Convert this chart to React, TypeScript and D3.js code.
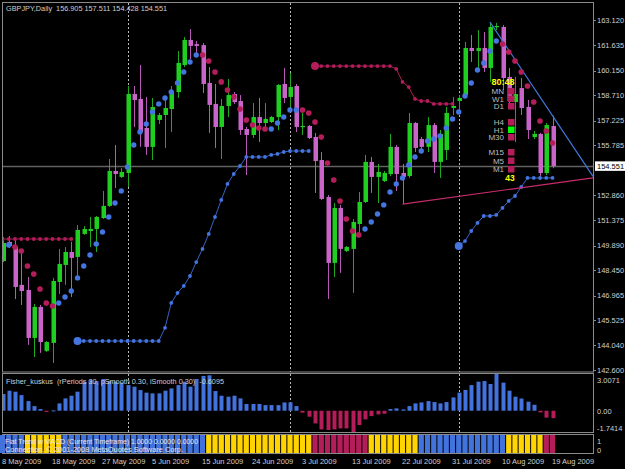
import React from "react";
import * as d3 from "d3";

// ---------- DATA ----------
const opens = [
  148.99, 150.11, 149.81, 147.59, 147.29, 144.48, 146.3, 143.72, 144.19, 147.76,
  148.76, 149.52, 149.23, 150.58, 150.75, 150.87, 151.51, 152.22, 154.27, 153.92,
  154.15, 158.78, 158.49, 156.79, 155.68, 157.26, 157.55, 157.9, 158.9, 160.48,
  161.95, 161.71, 161.65, 159.43, 158.2, 156.85, 158.08, 158.78, 158.37, 156.73,
  156.38, 157.43, 157.08, 157.14, 157.43, 159.37, 158.61, 159.25, 156.85, 156.91,
  156.26, 154.91, 152.74, 148.88, 152.1, 149.58, 149.7, 151.16, 152.45, 154.8,
  153.92, 153.68, 154.09, 155.68, 154.15, 153.97, 157.08, 156.14, 155.68, 156.96,
  154.8, 155.5, 157.96, 158.37, 158.72, 161.48, 161.3, 161.48, 160.31, 162.71,
  162.71, 159.78, 158.31, 159.13, 158.02, 156.26, 156.44, 154.15, 156.905,
];
const highs = [
  150.4, 150.46, 150.22, 149.64, 148.05, 146.47, 146.41, 144.3, 148.0, 149.7,
  149.81, 150.11, 151.1, 151.04, 151.57, 151.63, 153.1, 154.97, 155.79, 154.44,
  159.25, 159.25, 160.48, 158.61, 158.55, 157.67, 158.43, 159.25, 161.3, 162.12,
  162.59, 161.89, 161.77, 160.36, 159.37, 158.49, 159.66, 158.9, 158.72, 156.85,
  158.25, 158.55, 158.25, 157.49, 159.37, 160.31, 160.01, 159.37, 157.67, 156.96,
  156.5, 155.38, 152.86, 152.39, 152.28, 149.87, 151.45, 153.04, 155.21, 155.09,
  154.68, 154.27, 156.44, 155.79, 154.68, 157.67, 157.14, 156.26, 157.43, 157.08,
  156.67, 158.02, 158.61, 158.72, 161.83, 162.24, 162.53, 162.42, 163.0, 162.95,
  162.83, 160.31, 159.78, 159.72, 158.43, 156.61, 156.5, 157.08, 157.511,
];
const lows = [
  148.93, 149.75, 146.76, 146.41, 144.07, 143.36, 143.6, 143.66, 143.01, 147.06,
  147.59, 146.88, 148.05, 150.52, 149.81, 149.52, 151.45, 152.16, 153.27, 153.86,
  153.33, 156.85, 155.68, 155.21, 154.91, 157.02, 155.62, 156.55, 158.55, 160.36,
  160.83, 161.19, 158.84, 156.5, 155.62, 154.97, 157.43, 158.2, 156.38, 154.03,
  156.2, 155.97, 156.67, 157.08, 156.67, 158.25, 158.02, 156.55, 156.38, 156.14,
  152.98, 152.57, 146.76, 148.05, 148.29, 149.52, 147.12, 150.63, 152.39, 152.98,
  152.39, 153.62, 153.97, 153.1, 152.33, 153.86, 155.38, 155.5, 155.38, 154.15,
  153.86, 154.91, 157.55, 157.84, 158.55, 160.66, 160.31, 160.07, 159.49, 162.53,
  159.02, 158.14, 155.97, 157.55, 156.14, 156.14, 153.74, 154.03, 154.428,
];
const closes = [
  150.05, 149.87, 147.47, 147.23, 144.48, 146.3, 144.24, 144.24, 147.82, 148.82,
  149.52, 149.17, 150.81, 150.87, 150.87, 151.57, 152.22, 154.27, 154.09, 154.21,
  158.78, 158.43, 156.55, 155.68, 158.02, 157.55, 157.96, 158.9, 160.6, 161.95,
  161.6, 161.6, 159.37, 158.14, 156.85, 158.08, 158.72, 158.31, 156.67, 156.38,
  157.43, 157.08, 157.32, 157.43, 159.31, 158.55, 159.19, 156.85, 156.91, 156.2,
  154.85, 152.63, 148.88, 152.1, 149.7, 149.81, 151.28, 152.45, 154.8, 153.92,
  154.21, 154.15, 155.68, 154.09, 153.92, 157.08, 155.62, 155.68, 156.96, 154.8,
  156.44, 157.67, 158.08, 158.55, 161.48, 161.3, 161.48, 160.31, 162.71, 162.77,
  159.72, 158.37, 158.78, 157.96, 156.67, 156.44, 154.15, 156.96, 154.551,
];

// parabolic dots: [first bar index, values...]
const sarUpRuns: [number, number[]][] = [
  [1, [149.93]],
  [9, [146.53, 146.88, 147.23, 148.0, 148.7, 149.34, 149.99, 150.69, 151.57, 152.39, 153.1, 154.5,
       155.79, 156.55, 157.02, 157.73, 158.2, 158.55, 158.9, 159.43, 160.07, 160.66, 161.07]],
  [43, [156.73, 157.08, 157.43, 157.84, 157.84]],
  [58, [150.87, 151.28, 151.75, 152.28, 153.04, 153.51, 153.86, 154.62, 155.09, 155.44, 156.03,
        156.14, 156.32, 156.79, 157.32, 157.73, 158.66, 159.43, 160.19, 160.6, 161.3, 161.89]],
];
const sarDownRuns: [number, number[]][] = [
  [2, [149.81, 149.58, 148.7, 148.23, 147.35, 146.53, 146.35]],
  [32, [161.07, 160.72, 160.07, 159.49, 159.02, 158.61, 157.9, 157.26, 156.96, 156.79, 156.73]],
  [48, [157.84, 157.67, 157.14, 156.26, 154.74, 153.74, 152.51, 151.45, 150.75, 150.52]],
  [80, [161.71, 161.24, 160.72, 160.07, 159.25, 158.31, 157.2, 156.61, 155.91]],
];

// trailing stop lines
const stopRed1: [number, number[]] = [0, [150.28, 150.28, 150.28, 150.28, 150.28, 150.28, 150.28, 150.28, 150.28, 150.28, 150.28, 150.28]];
const stopBlue1: [number, number[]] = [12, [
  144.3, 144.3, 144.3, 144.3, 144.3, 144.3, 144.3, 144.3, 144.3, 144.3, 144.3, 144.3, 144.3, 144.3,
  145.07, 146.53, 147.12, 147.53, 148.11, 148.93, 149.7, 150.58, 151.57, 152.57, 153.51, 154.09,
  154.56, 155.09, 155.09, 155.09, 155.09, 155.21, 155.27, 155.38, 155.44, 155.44, 155.44, 155.44]];
const stopRed2: [number, number[]] = [50, [
  160.42, 160.42, 160.42, 160.42, 160.42, 160.42, 160.42, 160.42, 160.42, 160.42, 160.42, 160.42, 160.42,
  160.25, 159.49, 159.19, 158.49, 158.37, 158.37, 158.2, 158.2, 158.2, 158.2]];
const stopBlue2: [number, number[]] = [73, [
  149.87, 150.16, 150.75, 151.22, 151.63, 151.63, 151.69, 152.1, 152.51, 152.8, 153.33,
  153.86, 153.86, 153.86, 153.86, 153.86]];

// trend lines: two anchors [bar, price], extended to the right edge
const trendBlue: [number, number][] = [[78, 163.0], [88, 157.511]];
const trendPink: [number, number][] = [[64, 152.33], [88, 153.54]];

const fisher = [
  1.37, 1.64, 1.56, 1.28, 0.79, 0.38, 0.14, -0.1, 0.03, 0.6,
  1.01, 1.23, 1.56, 2.38, 2.51, 2.43, 2.6, 2.43, 2.38, 2.3,
  2.1, 1.97, 1.69, 1.48, 1.42, 1.42, 1.64, 1.83, 2.1, 2.38,
  1.97, 2.6, 2.85, 2.9, 1.61, 1.23, 1.15, 1.23, 1.01, 0.55,
  0.55, 0.55, 0.46, 0.46, 0.46, 0.68, 0.68, 0.38, -0.16, -0.49,
  -1.04, -1.53, -1.58, -1.53, -1.45, -1.45, -1.7414, -1.17, -0.71, -0.44,
  -0.3, -0.25, 0.14, 0.19, 0.11, 0.38, 0.6, 0.68, 0.79, 0.71,
  0.6, 0.71, 1.09, 1.48, 1.7, 2.1, 2.38, 2.43, 2.19, 3.0071,
  2.3, 1.64, 1.15, 1.0, 0.74, 0.49, -0.14, -0.57, -0.6095,
];

// Flat Trend state runs: [from, to, state]
const trendRuns: [number, number, string][] = [
  [0, 3, "B"], [4, 9, "Y"], [10, 32, "B"], [33, 49, "Y"], [50, 58, "R"],
  [59, 66, "Y"], [67, 80, "B"], [81, 86, "Y"], [87, 88, "R"],
];

const priceTicks = [163.12, 161.635, 160.15, 158.71, 157.225, 155.785, 152.86, 151.375, 149.89, 148.45, 146.965, 145.525, 144.04, 142.6];
const dateLabels = ["8 May 2009", "18 May 2009", "27 May 2009", "5 Jun 2009", "15 Jun 2009", "24 Jun 2009",
  "3 Jul 2009", "13 Jul 2009", "22 Jul 2009", "31 Jul 2009", "10 Aug 2009", "19 Aug 2009"];
const dateBars = [0, 8, 16, 24, 32, 40, 48, 56, 64, 72, 80, 88];
const monthStarts = [20, 46, 73];
const fisherLabels: [number, string][] = [[3.0071, "3.0071"], [0, "0.00"], [-1.7414, "-1.7414"]];
const mtfNames = ["MN", "W1", "D1", "H4", "H1", "M30", "M15", "M5", "M1"];
const mtfState = ["R", "R", "R", "R", "G", "R", "R", "R", "R"];
const mtfTimer = "80:48";
const mtfCount = "43";

// ---------- STYLE ----------
const FONT = "'Liberation Sans', Arial, sans-serif";
const TXT = "#cfcfcf";
const FRAME = "#8a8a8a";
const G_BODY = "#1fcf1f", G_WICK = "#1da81d";
const P_BODY = "#c965c9", P_WICK = "#b757b7";
const BLUE = "#4575e0", BLUE_LINE = "#3763c6";
const CRIM = "#b31d59";
const YEL = "#ffd400";
const stateColor: Record<string, string> = { B: "#4272dc", Y: YEL, R: CRIM, G: "#00ff00" };

const R_EDGE = 593;
const x = d3.scaleLinear().domain([0, 88]).range([2.5, 552.5]);
const y = d3.scaleLinear().domain([142.6, 163.12]).range([370, 20]);
const yF = d3.scaleLinear().domain([-1.7414, 3.0071]).range([432, 374]);

function runPoints(run: [number, number[]]): [number, number][] {
  return run[1].map((v, k) => [x(run[0] + k), y(v)] as [number, number]);
}
function ray(a: [number, number][]) {
  const x1 = x(a[0][0]), y1 = y(a[0][1]), x2 = x(a[1][0]), y2 = y(a[1][1]);
  const yEnd = y1 + ((y2 - y1) * (R_EDGE - x1)) / (x2 - x1);
  return { x1, y1, x2: R_EDGE, y2: yEnd };
}

export default function App() {
  const line = d3.line<[number, number]>();
  const stops = [
    { run: stopRed1, color: CRIM, big: false },
    { run: stopBlue1, color: BLUE_LINE, big: true },
    { run: stopRed2, color: CRIM, big: true },
    { run: stopBlue2, color: BLUE_LINE, big: true },
  ];
  const tb = ray(trendBlue);
  const tp = ray(trendPink);
  const last = opens.length - 1;
  const title = `GBPJPY,Daily  ${opens[last].toFixed(3)} ${highs[last].toFixed(3)} ${lows[last].toFixed(3)} ${closes[last].toFixed(3)}`;
  const fisherTitle = `Fisher_kuskus  (rPeriods 30, pSmooth 0.30, iSmooth 0.30)  ${fisher[last].toFixed(4)}`;
  const barW = x(1) - x(0);

  // MTF panel row positions (layout)
  const mtfY = [91, 98.5, 106, 122, 129.5, 137, 152, 160.5, 169];

  return (
    <div style={{ position: "fixed", left: 0, top: 0, width: 625, height: 469, background: "#000" }}>
      <svg width={625} height={469} style={{ display: "block" }} fontFamily={FONT}>
        <defs>
          <clipPath id="mainClip"><rect x={3} y={3} width={590} height={369} /></clipPath>
          <clipPath id="indClip"><rect x={3} y={374} width={590} height={58} /></clipPath>
        </defs>
        <rect width={625} height={469} fill="#000" />

        {/* frames */}
        <rect x={2.5} y={2.5} width={591} height={369.5} fill="none" stroke={FRAME} />
        <rect x={2.5} y={373.5} width={591} height={59} fill="none" stroke={FRAME} />
        <rect x={2.5} y={434.5} width={591} height={19} fill="none" stroke={FRAME} />

        {/* main chart */}
        <g clipPath="url(#mainClip)">
          {monthStarts.map((i) => (
            <line key={"ms" + i} x1={Math.round(x(i)) + 0.5} x2={Math.round(x(i)) + 0.5} y1={3} y2={372}
              stroke="#b8b8b8" strokeDasharray="2,2" />
          ))}
          <line x1={3} x2={R_EDGE} y1={Math.round(y(closes[last])) + 0.5} y2={Math.round(y(closes[last])) + 0.5}
            stroke="#626262" strokeWidth={1.5} />
          {/* candles */}
          {opens.map((o, i) => {
            const c = closes[i];
            const bull = c >= o;
            const cx = Math.round(x(i)) + 0.5;
            const top = y(Math.max(o, c)), bot = y(Math.min(o, c));
            return (
              <g key={"c" + i}>
                <line x1={cx} x2={cx} y1={y(highs[i])} y2={y(lows[i])} stroke={bull ? G_WICK : P_WICK} />
                <rect x={cx - 2} y={top} width={4.5} height={Math.max(1.2, bot - top)} fill={bull ? G_BODY : P_BODY} />
              </g>
            );
          })}
          {/* trailing stop lines */}
          {stops.map((s, k) => {
            const pts = runPoints(s.run);
            return (
              <g key={"st" + k}>
                <path d={line(pts) || ""} fill="none" stroke={s.color} strokeWidth={1} />
                {pts.map((p, j) => (
                  <circle key={j} cx={p[0]} cy={p[1]} r={j === 0 && s.big ? 4 : 1.9} fill={s.color === CRIM ? CRIM : BLUE} />
                ))}
              </g>
            );
          })}
          {/* trend lines */}
          <line x1={tb.x1} y1={tb.y1} x2={tb.x2} y2={tb.y2} stroke="#3d7ae0" strokeWidth={1.2} />
          <line x1={tp.x1} y1={tp.y1} x2={tp.x2} y2={tp.y2} stroke="#c62c6e" strokeWidth={1.2} />
          {/* parabolic dots */}
          {sarUpRuns.map((r, k) => runPoints(r).map((p, j) => (
            <circle key={"su" + k + "_" + j} cx={p[0]} cy={p[1]} r={2.7} fill={BLUE} />
          )))}
          {sarDownRuns.map((r, k) => runPoints(r).map((p, j) => (
            <circle key={"sd" + k + "_" + j} cx={p[0]} cy={p[1]} r={2.8} fill={CRIM} />
          )))}
          {/* MTF panel */}
          <text x={503} y={85} fontSize={9} fontWeight="bold" fill="#ffff00" textAnchor="middle">{mtfTimer}</text>
          {mtfNames.map((n, k) => (
            <g key={"mtf" + n}>
              <text x={504} y={mtfY[k] + 3} fontSize={8} fill="#bdbdbd" textAnchor="end">{n}</text>
              <rect x={508} y={mtfY[k] - 3} width={6.5} height={6.5} fill={stateColor[mtfState[k]]} />
            </g>
          ))}
          <text x={510} y={181} fontSize={8.5} fontWeight="bold" fill="#ffff00" textAnchor="middle">{mtfCount}</text>
        </g>
        <text x={6} y={11} fontSize={7.6} fill={TXT} textLength={161} lengthAdjust="spacingAndGlyphs"
          style={{ whiteSpace: "pre" }}>{title}</text>

        {/* price axis */}
        {priceTicks.map((p) => (
          <g key={"pt" + p}>
            <line x1={593} x2={596} y1={Math.round(y(p)) + 0.5} y2={Math.round(y(p)) + 0.5} stroke={FRAME} />
            <text x={597} y={y(p) + 2.8} fontSize={7.5} fill={TXT}>{p.toFixed(3)}</text>
          </g>
        ))}
        <rect x={595} y={y(closes[last]) - 4.8} width={30} height={9.5} fill="#ffffff" />
        <text x={597} y={y(closes[last]) + 2.8} fontSize={7.5} fill="#000">{closes[last].toFixed(3)}</text>

        {/* Fisher window */}
        <g clipPath="url(#indClip)">
          {monthStarts.map((i) => (
            <line key={"ms2" + i} x1={Math.round(x(i)) + 0.5} x2={Math.round(x(i)) + 0.5} y1={374} y2={433}
              stroke="#b8b8b8" strokeDasharray="2,2" />
          ))}
          {fisher.map((v, i) => {
            const y0 = yF(0), y1 = yF(v);
            return (
              <rect key={"f" + i} x={Math.round(x(i)) - 1.5} y={Math.min(y0, y1)} width={4}
                height={Math.max(1, Math.abs(y1 - y0))} fill={v >= 0 ? "#4272dc" : CRIM} />
            );
          })}
        </g>
        <text x={6} y={384} fontSize={7.5} fill={TXT} textLength={218} lengthAdjust="spacingAndGlyphs"
          style={{ whiteSpace: "pre" }}>{fisherTitle}</text>
        {fisherLabels.map(([v, s]) => (
          <text key={"fl" + s} x={597} y={Math.min(431, Math.max(383, yF(v) + 2.8))} fontSize={7.5} fill={TXT}>{s}</text>
        ))}

        {/* Flat trend window */}
        {trendRuns.map(([a, b, st]) =>
          d3.range(a, b + 1).map((i) => (
            <rect key={"tr" + i} x={x(i) - barW / 2 + 0.5} y={435} width={barW - 1} height={18} fill={stateColor[st]} />
          ))
        )}
        <text x={5} y={444} fontSize={7.5} fill="#e6e6e6" textLength={193} lengthAdjust="spacingAndGlyphs">
          Flat Trend w MACD (Current Timeframe) 1.0000 0.0000 0.0000
        </text>
        <text x={5} y={452} fontSize={7.5} fill="#e6e6e6" textLength={178} lengthAdjust="spacingAndGlyphs">
          Connection, © 2001-2008 MetaQuotes Software Corp.
        </text>
        <text x={597} y={443.5} fontSize={7.5} fill={TXT}>1</text>
        <text x={597} y={452.5} fontSize={7.5} fill={TXT}>0</text>

        {/* date axis */}
        {dateLabels.map((d, k) => (
          <text key={"d" + k} x={x(dateBars[k]) - 0.5} y={463.5} fontSize={7.5} fill={TXT}>{d}</text>
        ))}
      </svg>
    </div>
  );
}
